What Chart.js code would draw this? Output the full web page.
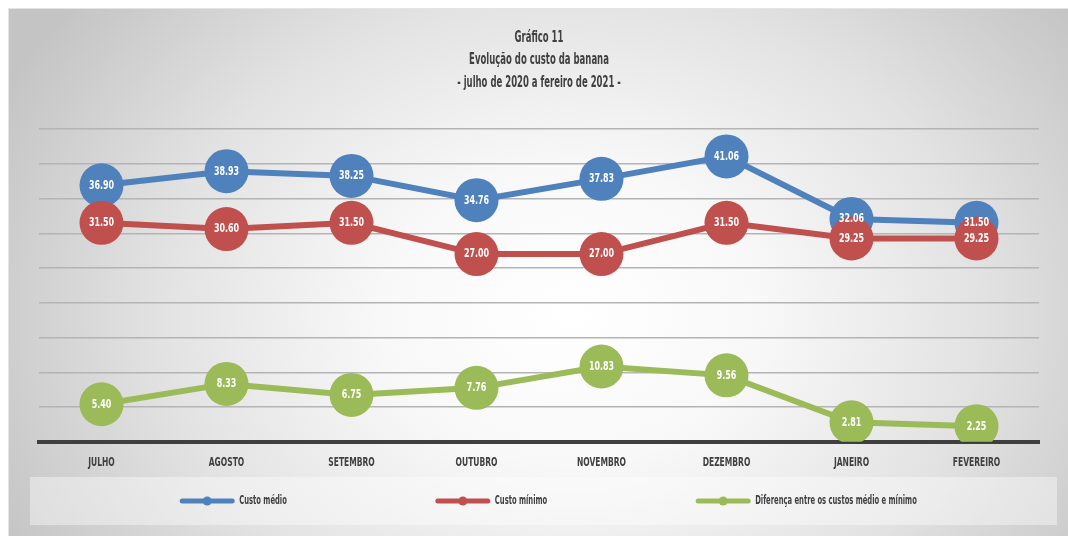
<!DOCTYPE html>
<html lang="pt">
<head>
<meta charset="utf-8">
<title>Evolução do custo da banana</title>
<script src="https://cdn.jsdelivr.net/npm/chart.js@4.4.0/dist/chart.umd.min.js"></script>
<style>
  html, body { margin: 0; padding: 0; background: #ffffff; }
  #panel {
    position: absolute; left: 8px; top: 8px; width: 1060px; height: 528px;
    box-sizing: border-box; border-left: 1px solid #e4e4e4; border-top: 1px solid #e4e4e4;
    background: radial-gradient(ellipse 60% 95% at 53% 58%, #ffffff 0%, #f8f8f8 30%, #e2e2e2 65%, #c4c4c4 100%);
  }
  #wrap { position: absolute; left: 0; top: 0; width: 1068px; height: 536px; }
</style>
</head>
<body>
<div id="panel"></div>
<div id="wrap"><canvas id="bananaChart"></canvas></div>
<script>
/* data */
const MONTHS       = ['JULHO', 'AGOSTO', 'SETEMBRO', 'OUTUBRO', 'NOVEMBRO', 'DEZEMBRO', 'JANEIRO', 'FEVEREIRO'];
const CUSTO_MEDIO  = [36.90, 38.93, 38.25, 34.76, 37.83, 41.06, 32.06, 31.50];
const CUSTO_MINIMO = [31.50, 30.60, 31.50, 27.00, 27.00, 31.50, 29.25, 29.25];
const DIFERENCA    = [5.40, 8.33, 6.75, 7.76, 10.83, 9.56, 2.81, 2.25];
const SERIES_NAMES = ['Custo médio', 'Custo mínimo', 'Diferença entre os custos médio e mínimo'];
const TITLE_LINES  = ['Gráfico 11', 'Evolução do custo da banana', '- julho de 2020 a fereiro de 2021 -'];

const BLUE  = '#4f81bd';
const RED   = '#c0504d';
const GREEN = '#9bbb59';
const TEXT  = '#404040';
const GRID  = '#b4b4b4';
const FONT  = '"DejaVu Sans Condensed", "Liberation Sans Narrow", sans-serif';

// no condensed font is installed, so squeeze text horizontally
function narrowText(ctx, text, x, y, sx, align) {
  ctx.save();
  ctx.translate(x, y);
  ctx.scale(sx, 1);
  ctx.textAlign = align || 'center';
  ctx.textBaseline = 'middle';
  ctx.fillText(text, 0, 0);
  ctx.restore();
}

// title, three lines over the plot
const titleBlock = {
  id: 'titleBlock',
  afterDraw(chart) {
    const ctx = chart.ctx;
    const cx = (chart.chartArea.left + chart.chartArea.right) / 2;
    ctx.save();
    ctx.fillStyle = TEXT;
    ctx.font = 'bold 15px ' + FONT;
    TITLE_LINES.forEach((t, i) => narrowText(ctx, t, cx, 38 + i * 22.5, 0.63));
    ctx.restore();
  }
};

// month names under the axis
const monthLabels = {
  id: 'monthLabels',
  afterDraw(chart) {
    const ctx = chart.ctx, xs = chart.scales.x;
    ctx.save();
    ctx.fillStyle = TEXT;
    ctx.font = 'bold 12px ' + FONT;
    MONTHS.forEach((m, i) => narrowText(ctx, m, xs.getPixelForTick(i), chart.chartArea.bottom + 21, 0.7));
    ctx.restore();
  }
};

// white value inside each marker
const valueLabels = {
  id: 'valueLabels',
  afterDatasetsDraw(chart) {
    const ctx = chart.ctx;
    ctx.save();
    ctx.fillStyle = '#ffffff';
    ctx.font = 'bold 13px ' + FONT;
    chart.data.datasets.forEach((ds, i) => {
      chart.getDatasetMeta(i).data.forEach((pt, j) => {
        narrowText(ctx, ds.data[j].toFixed(2), pt.x, pt.y, 0.68);
      });
    });
    ctx.restore();
  }
};

// light box behind the legend
const legendBox = {
  id: 'legendBox',
  beforeDraw(chart) {
    const ctx = chart.ctx;
    ctx.save();
    ctx.fillStyle = 'rgba(255,255,255,0.4)';
    ctx.fillRect(30, 477, 1027, 48);
    ctx.restore();
  }
};

// legend with wide gaps: line + dot sample, then text
const wideLegend = {
  id: 'wideLegend',
  afterDraw(chart) {
    const ctx = chart.ctx;
    const sampleW = 56, gap = 148, textGap = 4, y = 501, sx = 0.58;
    ctx.save();
    ctx.font = 'bold 13px ' + FONT;
    const items = chart.data.datasets.map(ds => ({
      label: ds.label, color: ds.borderColor,
      w: sampleW + textGap + ctx.measureText(ds.label).width * sx
    }));
    const total = items.reduce((s, it) => s + it.w, 0) + gap * (items.length - 1);
    let x = 548 - total / 2;
    items.forEach(it => {
      ctx.strokeStyle = it.color;
      ctx.lineWidth = 5;
      ctx.lineCap = 'round';
      ctx.beginPath();
      ctx.moveTo(x + 3, y);
      ctx.lineTo(x + sampleW - 3, y);
      ctx.stroke();
      ctx.fillStyle = it.color;
      ctx.beginPath();
      ctx.arc(x + sampleW / 2, y, 4.5, 0, Math.PI * 2);
      ctx.fill();
      ctx.fillStyle = TEXT;
      narrowText(ctx, it.label, x + sampleW + textGap, y, sx, 'left');
      x += it.w + gap;
    });
    ctx.restore();
  }
};

function series(label, data, color, order) {
  return {
    label, data, order,
    borderColor: color,
    backgroundColor: color,
    borderWidth: 6,
    pointRadius: 22,
    pointHoverRadius: 22,
    pointBorderWidth: 0,
    pointBackgroundColor: color,
    tension: 0
  };
}

new Chart(document.getElementById('bananaChart'), {
  type: 'line',
  data: {
    labels: MONTHS,
    datasets: [
      series(SERIES_NAMES[0], CUSTO_MEDIO, BLUE, 2),
      series(SERIES_NAMES[1], CUSTO_MINIMO, RED, 1),
      series(SERIES_NAMES[2], DIFERENCA, GREEN, 0)
    ]
  },
  options: {
    responsive: true,
    maintainAspectRatio: false,
    animation: false,
    layout: { padding: { left: 39, right: 29, top: 129, bottom: 51 } },
    plugins: {
      legend: { display: false },
      tooltip: { enabled: false },
      title: { display: false }
    },
    scales: {
      x: {
        offset: true,
        grid: { display: false, drawTicks: false },
        border: { display: true, color: '#3f3f3f', width: 4 },
        ticks: { color: 'rgba(0,0,0,0)', font: { family: FONT, size: 11, weight: 'bold' }, padding: 15, maxRotation: 0 }
      },
      y: {
        min: 0, max: 45,
        ticks: { display: false, stepSize: 5 },
        grid: { color: GRID, lineWidth: 1.5, drawTicks: false },
        border: { display: false }
      }
    }
  },
  plugins: [legendBox, valueLabels, monthLabels, titleBlock, wideLegend]
});
</script>
</body>
</html>
